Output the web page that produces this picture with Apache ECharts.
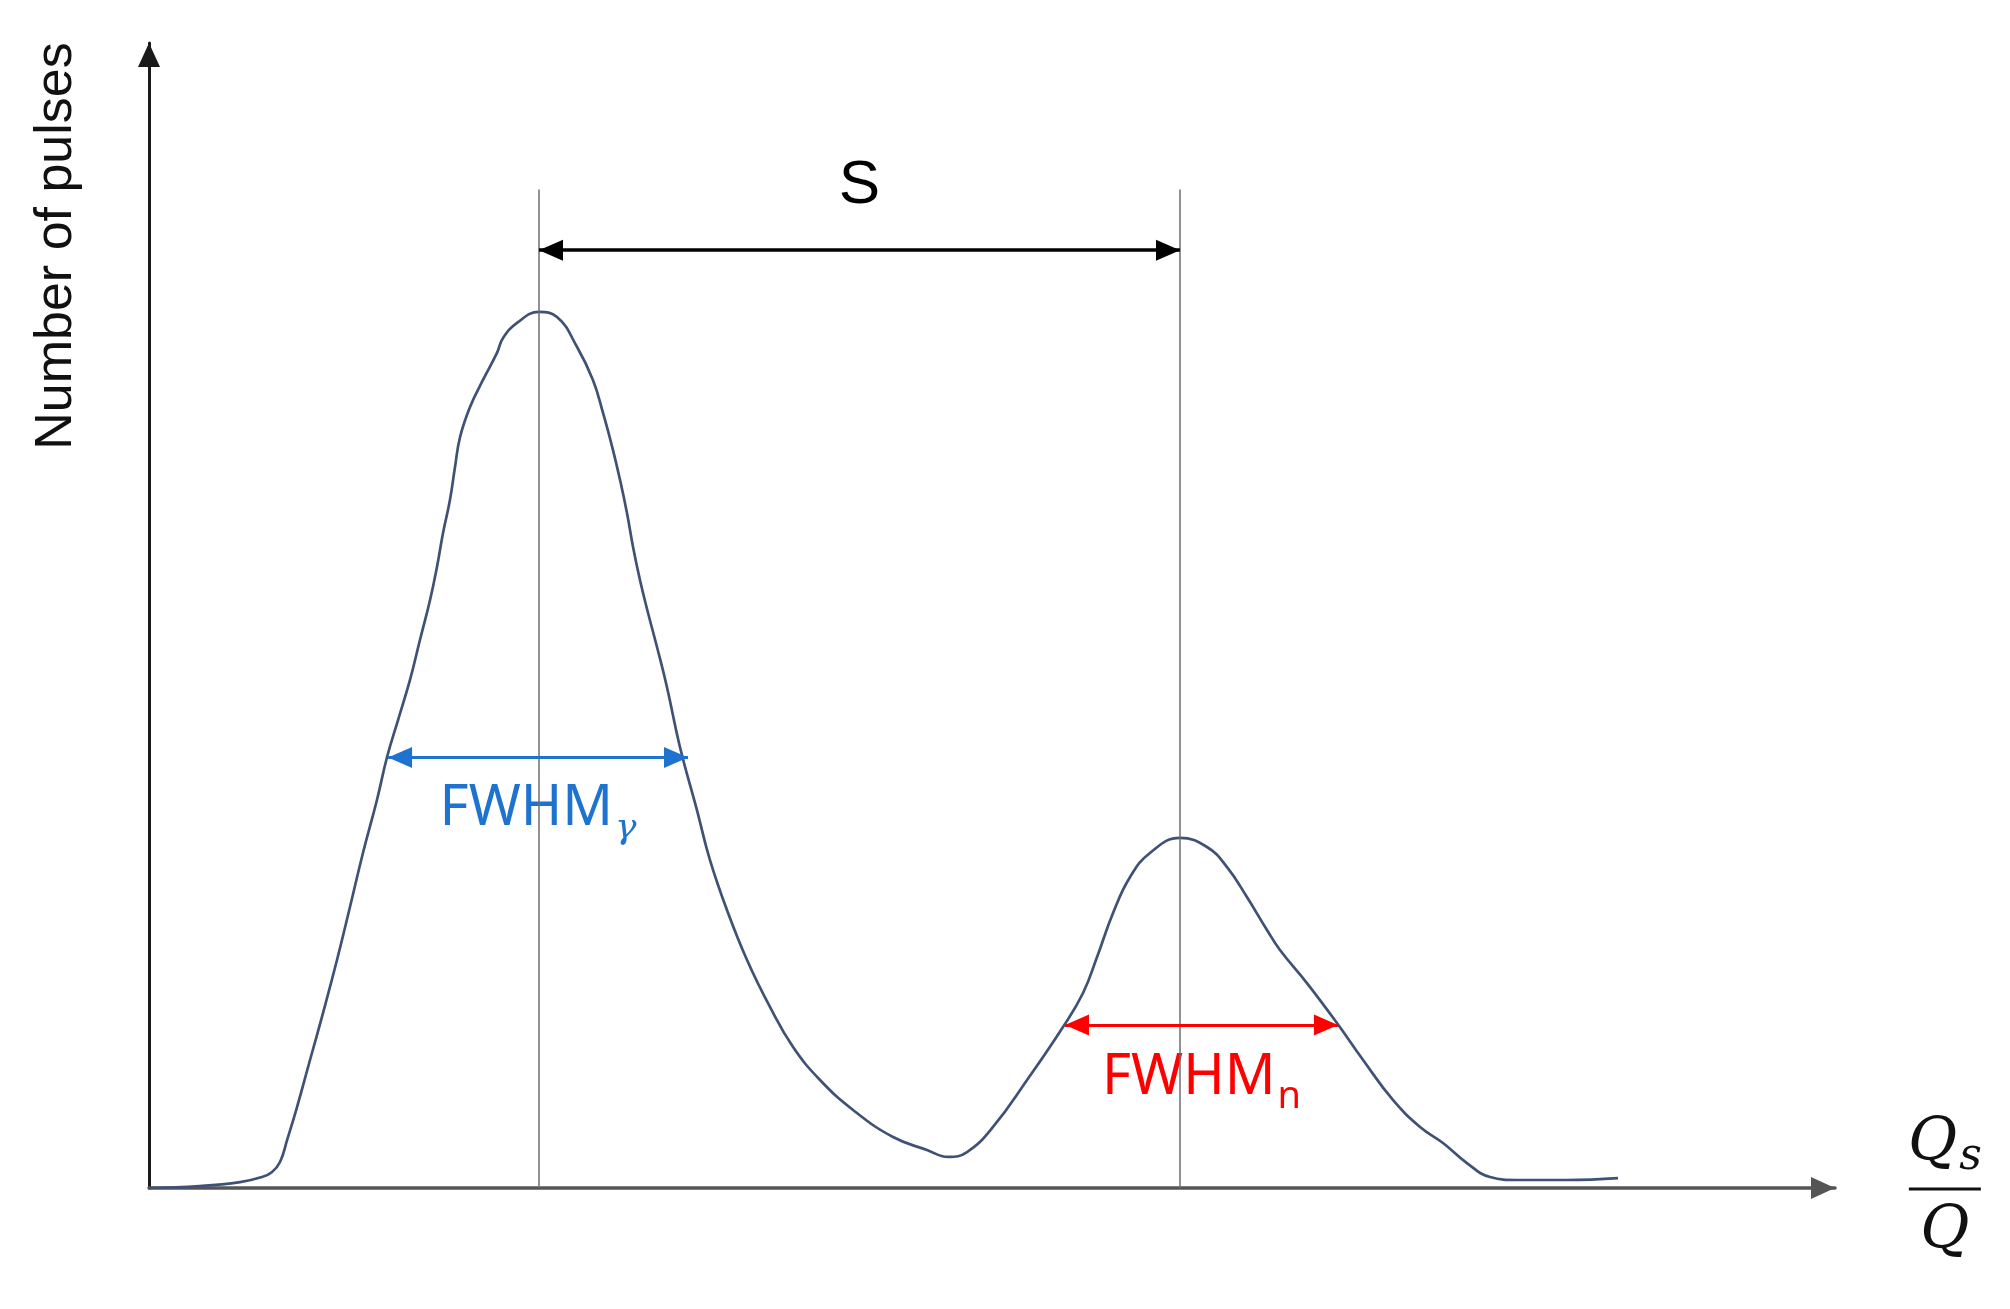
<!DOCTYPE html>
<html>
<head>
<meta charset="utf-8">
<script src="https://cdn.jsdelivr.net/npm/echarts@6/dist/echarts.min.js"></script>
<style>
  html, body { margin: 0; padding: 0; background: #fff; }
  #chart { width: 2010px; height: 1309px; }
</style>
</head>
<body>
<div id="chart"></div>
<script>
// pulse-shape spectrum, arbitrary units
const qsOverQ = [0, 3.0, 5.4, 6.7, 7.3, 7.77, 8.19, 8.78, 9.55, 10.32, 11.15, 11.92, 12.69, 13.52, 14.12, 14.77, 15.48, 16.07, 16.67, 17.08, 17.44, 17.85, 18.15, 18.45, 19.04, 19.81, 20.64, 21.0, 21.83, 23.13, 24.2, 25.39, 26.33, 26.93, 27.52, 27.94, 28.35, 28.71, 29.12, 29.6, 30.13, 30.72, 31.49, 32.5, 33.27, 34.28, 35.47, 36.83, 38.2, 39.8, 41.76, 44.13, 46.14, 47.39, 48.52, 50.06, 52.08, 54.21, 55.4, 56.23, 57.18, 58.19, 59.37, 61.15, 62.75, 63.94, 65.12, 66.31, 67.08, 68.68, 70.46, 72.01, 73.78, 75.39, 76.75, 78.17, 79.54, 81.14, 84.1, 87.13];
const pulses = [0, 0.17, 0.52, 0.96, 1.4, 2.27, 4.19, 7.07, 11.18, 15.28, 19.91, 24.54, 29.26, 33.89, 37.64, 40.87, 44.37, 47.86, 51.35, 54.24, 57.21, 60.09, 62.97, 65.59, 68.21, 70.57, 72.93, 74.24, 75.55, 76.51, 76.07, 73.45, 70.57, 67.69, 64.45, 61.83, 58.95, 55.98, 53.1, 50.22, 47.25, 43.76, 38.52, 33.01, 28.65, 24.28, 19.91, 15.81, 12.31, 9.43, 6.81, 4.45, 3.32, 2.71, 3.14, 5.33, 9.43, 14.06, 17.03, 20.17, 24.02, 27.16, 29.26, 30.57, 29.78, 28.03, 25.41, 22.53, 20.79, 17.9, 14.41, 11.18, 7.69, 5.33, 3.93, 2.18, 0.96, 0.7, 0.7, 0.87];

const peakX = [23.13, 61.15];
const guideTop = 87.2;
const sArrowY = 81.9;
const sLabelY = 87.5;
const gammaWidthX = [14.18, 31.97];
const gammaWidthY = 37.6;
const gammaLabelY = 33.1;
const neutronWidthX = [54.33, 70.52];
const neutronWidthY = 14.24;
const neutronLabelY = 9.6;

const curveColor = '#3f5276';
const gammaColor = '#1f73d0';
const neutronColor = '#ff0000';

const mid = (a) => (a[0] + a[1]) / 2;

const chart = echarts.init(document.getElementById('chart'));

// triangle heads pulled back so the tips sit on the end points
const arrowLine = (xs, y, color, width) => ({
  silent: true,
  animation: false,
  symbol: ['triangle', 'triangle'],
  symbolSize: [21, 24],
  symbolOffset: [[0, 12], [0, 12]],
  label: { show: false },
  lineStyle: { type: 'solid', color: color, width: width },
  data: [[{ coord: [xs[0], y] }, { coord: [xs[1], y] }]]
});

const option = {
  backgroundColor: '#fff',
  animation: false,
  grid: { left: 149, right: 175, top: 43, bottom: 121 },
  xAxis: {
    type: 'value',
    min: 0,
    max: 100,
    axisLine: {
      show: true,
      onZero: false,
      symbol: ['none', 'triangle'],
      symbolSize: [22, 24],
      symbolOffset: [0, -12],
      lineStyle: { color: '#555', width: 3.5 }
    },
    axisTick: { show: false },
    axisLabel: { show: false },
    splitLine: { show: false },
    name: '{q|Q}{s|s}\n{bar|}\n{q2|Q}',
    nameLocation: 'end',
    nameGap: 73,
    nameTextStyle: {
      rich: {
        q: { fontFamily: 'DejaVu Serif', fontStyle: 'italic', fontSize: 60, lineHeight: 86, color: '#111', align: 'center', verticalAlign: 'middle' },
        s: { fontFamily: 'DejaVu Serif', fontStyle: 'italic', fontSize: 44, lineHeight: 44, padding: [26, 0, 0, 2], color: '#111', align: 'center', verticalAlign: 'middle' },
        bar: { width: 72, height: 3, backgroundColor: '#111', align: 'center' },
        q2: { fontFamily: 'DejaVu Serif', fontStyle: 'italic', fontSize: 60, lineHeight: 84, color: '#111', align: 'center', verticalAlign: 'middle' }
      }
    }
  },
  yAxis: {
    type: 'value',
    min: 0,
    max: 100,
    axisLine: {
      show: true,
      symbol: ['none', 'triangle'],
      symbolSize: [22, 24],
      symbolOffset: [0, -12],
      lineStyle: { color: '#1a1a1a', width: 3 }
    },
    axisTick: { show: false },
    axisLabel: { show: false },
    splitLine: { show: false }
  },
  graphic: [{
    type: 'text',
    x: 57,
    y: 246,
    rotation: Math.PI / 2,
    style: {
      text: 'Number of pulses',
      font: '52px "Liberation Sans"',
      fill: '#111',
      align: 'center',
      verticalAlign: 'middle',
      textAlign: 'center',
      textVerticalAlign: 'middle'
    }
  }],
  series: [
    {
      name: 'spectrum',
      type: 'line',
      data: qsOverQ.map((x, i) => [x, pulses[i]]),
      showSymbol: false,
      smooth: 0.45,
      lineStyle: { color: curveColor, width: 2.7 },
      z: 3,
      markLine: {
        silent: true,
        animation: false,
        symbol: ['none', 'none'],
        label: { show: false },
        lineStyle: { type: 'solid', color: '#6e6e6e', width: 1.5 },
        data: peakX.map((x) => [{ coord: [x, 0] }, { coord: [x, guideTop] }])
      }
    },
    {
      name: 'S',
      type: 'scatter',
      symbolSize: 0,
      clip: false,
      itemStyle: { opacity: 1 },
      data: [[mid(peakX), sLabelY]],
      label: {
        show: true,
        position: 'inside',
        formatter: 'S',
        fontFamily: 'Liberation Sans',
        fontSize: 62,
        color: '#000'
      },
      markLine: arrowLine(peakX, sArrowY, '#000', 3.5)
    },
    {
      name: 'FWHM gamma',
      type: 'scatter',
      symbolSize: 0,
      itemStyle: { opacity: 1 },
      data: [[mid(gammaWidthX), gammaLabelY]],
      label: {
        show: true,
        position: 'inside',
        formatter: '{m|FWHM}{g|γ}',
        rich: {
          m: { fontFamily: 'Noto Sans', fontSize: 56, lineHeight: 80, color: gammaColor, verticalAlign: 'middle' },
          g: { fontFamily: 'DejaVu Serif', fontStyle: 'italic', fontSize: 36, lineHeight: 36, padding: [40, 0, 0, 2], color: gammaColor, verticalAlign: 'middle' }
        }
      },
      markLine: arrowLine(gammaWidthX, gammaWidthY, gammaColor, 3)
    },
    {
      name: 'FWHM n',
      type: 'scatter',
      symbolSize: 0,
      itemStyle: { opacity: 1 },
      data: [[mid(neutronWidthX), neutronLabelY]],
      label: {
        show: true,
        position: 'inside',
        formatter: '{m|FWHM}{n|n}',
        rich: {
          m: { fontFamily: 'Noto Sans', fontSize: 56, lineHeight: 80, color: neutronColor, verticalAlign: 'middle' },
          n: { fontFamily: 'Noto Sans', fontSize: 38, lineHeight: 38, padding: [38, 0, 0, 2], color: neutronColor, verticalAlign: 'middle' }
        }
      },
      markLine: arrowLine(neutronWidthX, neutronWidthY, neutronColor, 3)
    }
  ]
};

chart.setOption(option);
</script>
</body>
</html>
